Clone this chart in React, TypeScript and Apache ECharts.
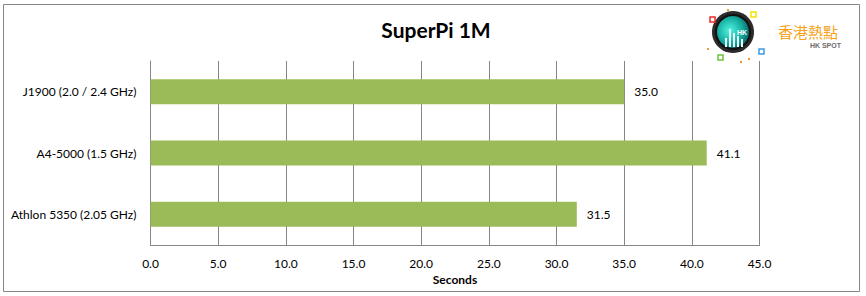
import React, { useEffect, useRef } from "react";
import * as echarts from "echarts";

const categories = ["J1900 (2.0 / 2.4 GHz)", "A4-5000 (1.5 GHz)", "Athlon 5350 (2.05 GHz)"];
const seconds = [35.0, 41.1, 31.5];
const titleText = "SuperPi 1M";
const axisTitle = "Seconds";

const FONT = "Lato, 'Open Sans', sans-serif";

export default function App() {
  const ref = useRef<HTMLDivElement>(null);
  useEffect(() => {
    if (!ref.current) return;
    const chart = echarts.init(ref.current, null, { renderer: "svg" });
    const cx = 733, cy = 32;
    chart.setOption({
      animation: false,
      backgroundColor: "#ffffff",
      title: {
        text: titleText,
        left: 431,
        top: 14,
        textAlign: "center",
        textStyle: { fontFamily: FONT, fontWeight: "bold", fontSize: 21, color: "#000" },
      },
      grid: { left: 150.5, right: 866 - 759.5, top: 61, bottom: 296 - 245, containLabel: false },
      xAxis: {
        type: "value",
        min: 0,
        max: 45,
        interval: 5,
        name: axisTitle,
        nameLocation: "middle",
        nameGap: 28,
        nameTextStyle: { fontFamily: FONT, fontWeight: "bold", fontSize: 12, color: "#000" },
        axisLine: { show: true, lineStyle: { color: "#868686", width: 1 } },
        axisTick: { show: false },
        splitLine: { show: true, lineStyle: { color: "#868686", width: 1 } },
        axisLabel: {
          fontFamily: FONT,
          fontSize: 12,
          color: "#000",
          margin: 12,
          formatter: (v: number) => v.toFixed(1),
        },
      },
      yAxis: {
        type: "category",
        data: categories,
        inverse: true,
        axisLine: { show: true, lineStyle: { color: "#868686", width: 1 } },
        axisTick: { show: false },
        axisLabel: { fontFamily: FONT, fontSize: 12, color: "#000", margin: 14 },
      },
      series: [
        {
          type: "bar",
          data: seconds,
          barWidth: 25,
          itemStyle: { color: "#9BBB59" },
          label: {
            show: true,
            position: "right",
            distance: 10,
            fontFamily: FONT,
            fontSize: 12,
            color: "#000",
            formatter: (p: any) => Number(p.value).toFixed(1),
          },
        },
      ],
      graphic: [
        {
          type: "rect",
          shape: { x: 3.5, y: 4.5, width: 856, height: 287 },
          style: { fill: "none", stroke: "#868686", lineWidth: 1 },
          silent: true,
          z: -1,
        },
        // logo
        { type: "circle", shape: { cx, cy, r: 21 }, style: { fill: "#2b2b2b" } },
        { type: "circle", shape: { cx, cy, r: 18 }, style: { fill: "#111" } },
        {
          type: "circle",
          shape: { cx, cy, r: 16 },
          style: {
            fill: new echarts.graphic.RadialGradient(0.4, 0.45, 0.7, [
              { offset: 0, color: "#4ff5e0" },
              { offset: 0.6, color: "#12a89c" },
              { offset: 1, color: "#0a4d4d" },
            ]),
          },
        },
        { type: "rect", shape: { x: 729, y: 29, width: 2, height: 18 }, style: { fill: "#e8ffff" } },
        { type: "rect", shape: { x: 733, y: 33, width: 2, height: 14 }, style: { fill: "#e8ffff" } },
        { type: "rect", shape: { x: 737, y: 36, width: 2, height: 11 }, style: { fill: "#e8ffff" } },
        { type: "rect", shape: { x: 725, y: 38, width: 2, height: 9 }, style: { fill: "#e8ffff" } },
        { type: "rect", shape: { x: 741, y: 39, width: 2, height: 8 }, style: { fill: "#e8ffff" } },
        {
          type: "text",
          x: 742,
          y: 32,
          style: { text: "HK", fill: "#ffffff", font: "bold 7px sans-serif", align: "center", verticalAlign: "middle" },
        },
        { type: "rect", shape: { x: 710, y: 17, width: 5, height: 5 }, style: { fill: "#ffffff", stroke: "#ee2a2a", lineWidth: 1.5 } },
        { type: "rect", shape: { x: 751, y: 12, width: 5, height: 5 }, style: { fill: "#ffffff", stroke: "#f2e500", lineWidth: 1.5 } },
        { type: "rect", shape: { x: 759, y: 49, width: 5, height: 5 }, style: { fill: "#ffffff", stroke: "#3a9be8", lineWidth: 1.5 } },
        { type: "rect", shape: { x: 718, y: 55, width: 5, height: 5 }, style: { fill: "#ffffff", stroke: "#6cc23a", lineWidth: 1.5 } },
        { type: "rect", shape: { x: 727, y: 9, width: 2, height: 2 }, style: { fill: "#f59a3a" } },
        { type: "rect", shape: { x: 707, y: 48, width: 2, height: 2 }, style: { fill: "#f59a3a" } },
        { type: "rect", shape: { x: 740, y: 61, width: 2, height: 2 }, style: { fill: "#f59a3a" } },
        { type: "rect", shape: { x: 748, y: 58, width: 2, height: 2 }, style: { fill: "#f59a3a" } },
        {
          type: "text",
          x: 778,
          y: 24,
          style: { text: "香港熱點", fill: "#f7a21b", font: "15px 'Noto Sans CJK TC'", verticalAlign: "top", lineHeight: 15 },
        },
        {
          type: "text",
          x: 841,
          y: 42,
          style: { text: "HK SPOT", fill: "#6d6d6d", font: "bold 7px sans-serif", align: "right", verticalAlign: "top", lineHeight: 7 },
        },
      ],
    });
    return () => chart.dispose();
  }, []);
  return <div ref={ref} style={{ position: "fixed", left: 0, top: 0, width: 866, height: 296 }} />;
}
